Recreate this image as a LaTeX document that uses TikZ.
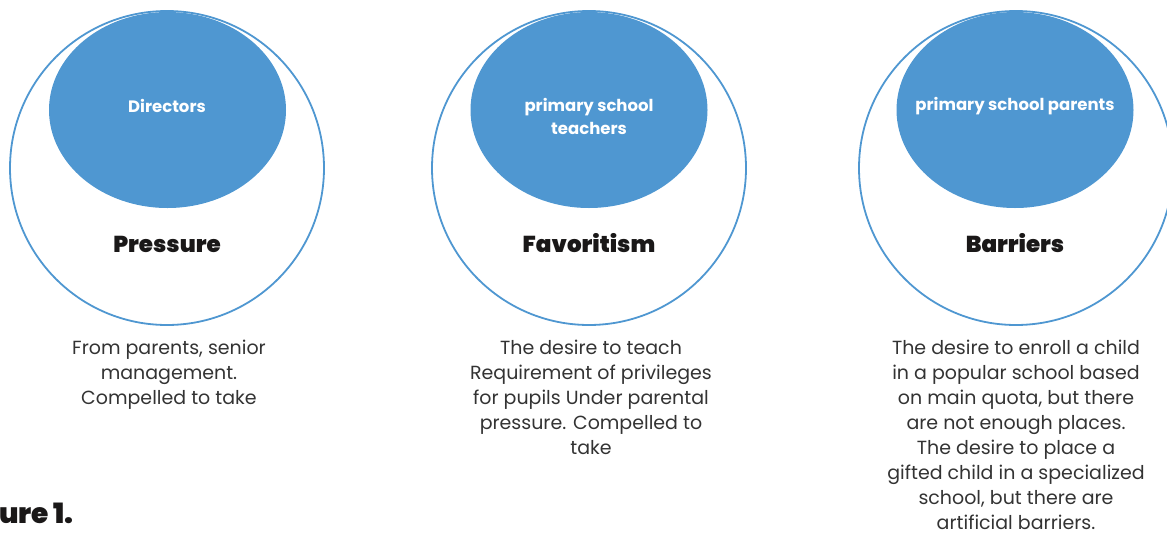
\documentclass[tikz,border=0pt]{standalone}
\usepackage{fontspec}
\setmainfont{Poppins}
\newfontfamily\heavyfont{Poppins Black}
\usetikzlibrary{shapes.geometric}
\definecolor{ringblue}{RGB}{79,151,209}
\definecolor{bodygray}{RGB}{51,51,51}
\definecolor{titleblack}{RGB}{26,24,24}
\begin{document}
\begin{tikzpicture}[x=1pt,y=-1pt,
  ring/.style={circle, draw=ringblue, line width=1.8pt, minimum size=314pt, inner sep=0pt},
  blob/.style={ellipse, fill=ringblue, minimum width=237pt, minimum height=196pt, inner sep=0pt},
  who/.style={text=white, font=\fontsize{16.5}{23}\selectfont\bfseries, align=center, inner sep=0pt},
  theme/.style={text=titleblack, font=\fontsize{23}{26}\selectfont\heavyfont, anchor=base, inner sep=0pt},
  note/.style={text=bodygray, font=\fontsize{19}{25}\selectfont, align=center, anchor=north, inner sep=0pt}
]
\useasboundingbox (0,0) rectangle (1167,533);

% outer rings
\node[ring] (ringA) at (167,168) {};
\node[ring] (ringB) at (589,168) {};
\node[ring] (ringC) at (1016,168) {};

% filled ellipses with the actors
\node[blob] (blobA) at (167.5,110) {};
\node[blob] (blobB) at (589,110) {};
\node[blob] (blobC) at (1015,110) {};
\node[who] (whoA) at (167,106) {Directors};
\node[who] (whoB) at (589,116) {primary school\\teachers};
\node[who] (whoC) at (1015,106) {primary school parents};

% themes
\node[theme] (themeA) at (167,252) {Pressure};
\node[theme] (themeB) at (589,252) {Favoritism};
\node[theme] (themeC) at (1015,252) {Barriers};

% descriptions
\node[note] (noteA) at (169,340) {From parents, senior\\management.\\Compelled to take};
\node[note] (noteB) at (591,340) {The desire to teach\\Requirement of privileges\\for pupils Under parental\\pressure. Compelled to\\take};
\node[note] (noteC) at (1016,340) {The desire to enroll a child\\in a popular school based\\on main quota, but there\\are not enough places.\\The desire to place a\\gifted child in a specialized\\school, but there are\\artificial barriers.};

% caption, cut by the page edge
\node[anchor=base east, inner sep=0pt, text=titleblack, font=\fontsize{28}{30}\selectfont\heavyfont] (caption) at (74,523) {Figure 1.};
\end{tikzpicture}
\end{document}
